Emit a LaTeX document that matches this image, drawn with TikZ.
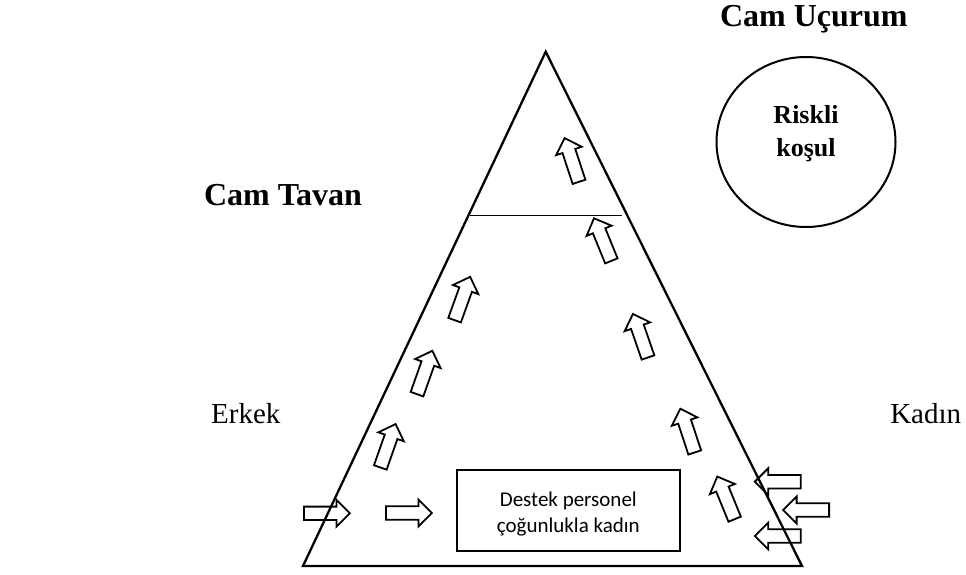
\documentclass[tikz,border=0pt]{standalone}
\usepackage{fontspec}
\setmainfont{Liberation Serif}
\newfontfamily\calibri{Carlito}
\usetikzlibrary{shapes.arrows,shapes.geometric}

\begin{document}
\begin{tikzpicture}[x=1pt,y=-1pt,
    blockarr/.style={single arrow, draw, line width=1.8pt, inner xsep=0pt, inner ysep=5.8pt,
      single arrow head extend=6.8pt, minimum height=46pt, anchor=tail},
    title/.style={font=\bfseries\fontsize{32}{38}\selectfont, anchor=base},
    side/.style={font=\fontsize{29}{35}\selectfont, anchor=base}]
      \useasboundingbox (0,0) rectangle (966,575);
      % pyramid and glass ceiling
      \coordinate (apex) at (545.7,51.7);
      \coordinate (bl) at (303,566);
      \coordinate (br) at (802,566);
      \draw[line width=2.3pt] (apex) -- (bl) -- (br) -- cycle;
      \coordinate (gl) at (470,215.7);
      \coordinate (gr) at (622,215.7);
      \draw[line width=1.3pt] (gl) -- (gr);
      % labels
      \node[title] (cliff) at (813.8,26.7) {Cam Uçurum};
      \node[title] (ceiling) at (283,205) {Cam Tavan};
      \node[side] (men) at (245.8,423.3) {Erkek};
      \node[side] (women) at (925.7,423.3) {Kadın};
      \node[ellipse, draw, line width=2pt, minimum width=179pt, minimum height=170pt] (risk) at (806,142) {};
      \node[font=\bfseries\fontsize{26}{33.5}\selectfont, align=center] (risktext) at (806,133.5) {Riskli\\koşul};
      \node[draw, line width=2pt, minimum width=223pt, minimum height=80.7pt] (staff) at (568.3,510.3) {};
      \node[font=\calibri\fontsize{21}{26}\selectfont, align=center] (stafftext) at (568.3,514.5) {Destek personel\\çoğunlukla kadın};
      % arrows: name / tail / direction
      \foreach \n/\p/\a in {men1/{303,513.3}/0, men2/{385,513}/0,
          men3/{380,468.3}/70.6, men4/{416.7,395}/70.5, men5/{454.3,321}/70.2,
          wom1/{735,520}/112.2, wom2/{695,453.3}/108.2, wom3/{648.3,358.3}/109.1,
          wom4/{611.7,261.7}/112.2, wom5/{579.3,182.7}/108.2,
          in1/{801.7,481.7}/180, in2/{830,510}/180, in3/{801.7,536}/180}
        \node[blockarr, rotate=\a] (\n) at (\p) {};
\end{tikzpicture}
\end{document}
